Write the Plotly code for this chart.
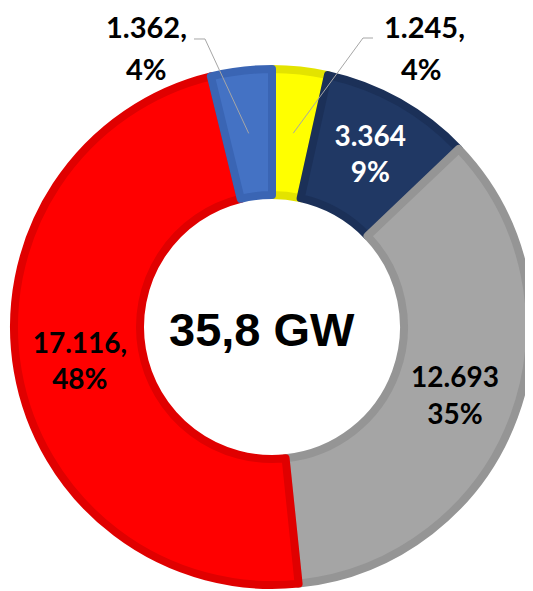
import math
import plotly.graph_objects as go

# ---- data ----
categories = ["Kategorie 1", "Kategorie 2", "Kategorie 3", "Kategorie 4", "Kategorie 5"]
values_mw = [1245, 3364, 12693, 17116, 1362]
pct_labels = ["4%", "9%", "35%", "48%", "4%"]
value_suffix = [",", "", "", ",", ","]
fill_colors = ["#FFFF00", "#203864", "#A5A5A5", "#FF0000", "#4472C4"]
edge_colors = ["#E3E300", "#1B3058", "#959595", "#E00000", "#3A65B4"]
text_colors = ["black", "white", "black", "black", "black"]
unit = "GW"

# ---- layout constants ----
OFF = 8                    # default page margin of the html body
W, H = 525, 583            # figure size (page is 533x591 incl. body margin)
CX, CY = 272, 327          # donut centre (screen px from top-left)
R_OUT, R_IN = 262, 128     # visual radii
LW = 8                     # slice edge width
LABEL_FONT = "Lato, 'Noto Sans', sans-serif"

r_plot = R_OUT - LW / 2
hole = (R_IN + LW / 2) / r_plot


def px2paper(x, y):
    return (x - OFF) / W, 1 - (y - OFF) / H


def fmt_int(v):
    return f"{v:,}".replace(",", ".")


total = sum(values_mw)
inside_text = [f"{fmt_int(v)}{s}<br>{p}" for v, s, p in zip(values_mw, value_suffix, pct_labels)]
textpos = ["none", "inside", "inside", "inside", "none"]

x0, y1 = px2paper(CX - r_plot, CY - r_plot)
x1, y0 = px2paper(CX + r_plot, CY + r_plot)

fig = go.Figure()
fig.add_trace(go.Pie(
    labels=categories,
    values=values_mw,
    sort=False,
    direction="clockwise",
    rotation=0,
    hole=hole,
    text=inside_text,
    textinfo="text",
    textposition=textpos,
    insidetextorientation="horizontal",
    insidetextfont=dict(family=LABEL_FONT, size=28, color=text_colors, weight="bold"),
    marker=dict(colors=fill_colors, line=dict(color=edge_colors, width=LW)),
    domain=dict(x=[x0, x1], y=[y0, y1]),
    hoverinfo="label+value+percent",
    showlegend=False,
))


def slice_mid(i):
    start = sum(values_mw[:i])
    frac = (start + values_mw[i] / 2) / total
    theta = 2 * math.pi * frac
    rm = (R_OUT + R_IN) / 2
    return CX + rm * math.sin(theta), CY - rm * math.cos(theta)


annotations = []
shapes = []

# outside labels with leader lines for the two small slices
outside = {
    4: dict(lx=146, x2=146, line_start=(194, 39), elbow=(205, 39)),
    0: dict(lx=424, x2=421, line_start=(373, 38), elbow=(363, 38)),
}
for i, spec in outside.items():
    ax1, ay1 = px2paper(spec["lx"], OFF)
    ax2, ay2 = px2paper(spec["x2"], 68)
    annotations.append(dict(x=ax1, y=ay1, xref="paper", yref="paper",
                            text=f"{fmt_int(values_mw[i])}{value_suffix[i]}", showarrow=False,
                            xanchor="center", yanchor="top", borderpad=0,
                            font=dict(family=LABEL_FONT, size=29, color="black", weight="bold")))
    annotations.append(dict(x=ax2, y=ay2, xref="paper", yref="paper",
                            text=pct_labels[i], showarrow=False,
                            xanchor="center", yanchor="middle",
                            font=dict(family=LABEL_FONT, size=29, color="black", weight="bold")))
    mx, my = slice_mid(i)
    pts = [px2paper(*spec["line_start"]), px2paper(*spec["elbow"]), px2paper(mx, my)]
    path = "M " + " L ".join(f"{px:.5f},{py:.5f}" for px, py in pts)
    shapes.append(dict(type="path", path=path, xref="paper", yref="paper",
                       line=dict(color="#A6A6A6", width=1)))

# centre total
cx_p, cy_p = px2paper(CX - 10, CY + 2)
total_txt = f"{total / 1000:.1f}".replace(".", ",") + " " + unit
annotations.append(dict(x=cx_p, y=cy_p, xref="paper", yref="paper", text=total_txt,
                        showarrow=False, xanchor="center", yanchor="middle",
                        font=dict(family="'Liberation Sans', Arial, sans-serif", size=47,
                                  color="black", weight="bold")))

fig.update_layout(
    width=W, height=H, autosize=False,
    margin=dict(l=0, r=0, t=0, b=0),
    paper_bgcolor="white", plot_bgcolor="white",
    separators=",.",
    uniformtext=dict(minsize=28, mode="show"),
    annotations=annotations,
    shapes=shapes,
)

fig.write_html("out.html")
